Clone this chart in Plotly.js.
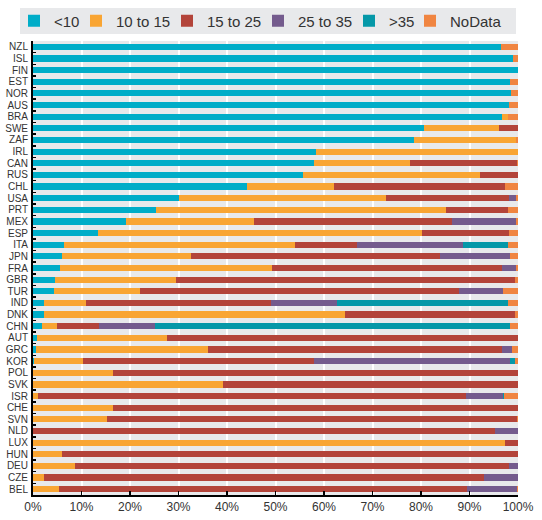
<!DOCTYPE html>
<html>
<head>
<meta charset="utf-8">
<script src="https://cdn.plot.ly/plotly-3.0.1.min.js"></script>
<style>html,body{margin:0;padding:0;background:#fff;}#chart{width:542px;height:520px;}</style>
</head>
<body>
<div id="chart"></div>
<script>
const countries = ["NZL","ISL","FIN","EST","NOR","AUS","BRA","SWE","ZAF","IRL","CAN","RUS","CHL","USA","PRT","MEX","ESP","ITA","JPN","FRA","GBR","TUR","IND","DNK","CHN","AUT","GRC","KOR","POL","SVK","ISR","CHE","SVN","NLD","LUX","HUN","DEU","CZE","BEL"];
const seriesNames = ["<10","10 to 15","15 to 25","25 to 35",">35","NoData"];
const lt10   = [96.4,98.9,99.9,98.4,98.6,98.1,96.8,80.7,78.5,58.4,58.0,55.7,44.1,30.2,25.4,19.2,13.5,6.3,6.0,5.5,4.6,4.3,2.2,2.2,1.8,0.9,0.7,0.3,0,0,0,0,0,0,0,0,0,0,0];
const r10_15 = [0,0,0,0,0,0,1.1,15.3,21.0,41.6,19.8,36.5,17.9,42.5,59.7,26.3,66.7,47.8,26.6,43.8,24.8,17.7,8.7,62.1,3.2,26.8,35.4,10.1,16.4,39.1,1.1,16.4,15.3,0,97.4,5.9,8.7,2.3,5.3];
const r15_25 = [0,0,0,0,0,0,0,3.9,0,0,21.9,7.8,35.4,25.4,12.9,40.8,17.9,12.6,51.3,47.3,69.9,65.8,38.2,35.0,8.7,72.3,60.5,47.6,83.6,60.9,88.2,83.6,84.4,95.3,2.6,94.1,89.5,90.6,84.1];
const r25_35 = [0,0,0,0,0,0,0,0,0,0,0,0,0,1.5,0,13.2,0,22.0,14.5,3.0,0,9.2,13.6,0,11.5,0,2.2,40.4,0,0,7.6,0,0,4.6,0,0,1.7,7.1,10.3];
const gt35   = [0,0,0,0,0,0,0,0,0,0,0,0,0,0,0,0,0,9.3,0,0,0,0,35.3,0,73.2,0,0,1.0,0,0,0.2,0,0,0,0,0,0,0,0];
const noData = [3.6,1.1,0.1,1.6,1.4,1.9,2.1,0.1,0.5,0,0.3,0,2.6,0.4,2.0,0.5,1.9,2.0,1.6,0.4,0.7,3.0,2.0,0.7,1.6,0,1.2,0.6,0,0,2.9,0,0.3,0.1,0,0,0.1,0,0.3];
const xTicks = [0,10,20,30,40,50,60,70,80,90,100];

const colors = ["#00ADC8","#F9A533","#B3443A","#745B8D","#0598A8","#F08541"];
const vals = [lt10,r10_15,r15_25,r25_35,gt35,noData];
// pixel x where each legend entry's text starts (reference)
const legendTextX = [54,116,207,298,389,450];

const traces = vals.map((v,i)=>({
  type:"bar", orientation:"h", name:seriesNames[i],
  x:v, y:countries,
  marker:{color:colors[i], line:{width:0}},
  legend: i===0 ? "legend" : "legend"+(i+1),
  hoverinfo:"x+y+name"
}));

const layout = {
  width:542, height:520,
  margin:{l:33, r:24, t:41, b:25, pad:0},
  paper_bgcolor:"#ffffff",
  plot_bgcolor:"#E8E9EB",
  barmode:"stack",
  barnorm:"percent",
  bargap:0.47,
  showlegend:true,
  font:{family:"Liberation Sans, Arial, sans-serif", color:"#333", size:12},
  xaxis:{
    range:[0,100], tickvals:xTicks, ticktext:xTicks.map(t=>t+"%"),
    showgrid:true, gridcolor:"#ffffff", gridwidth:2,
    showline:true, linecolor:"#000", linewidth:2,
    ticks:"inside", ticklen:4, tickcolor:"#000", tickwidth:1.5,
    tickfont:{size:12, color:"#333"},
    zeroline:false, fixedrange:true
  },
  yaxis:{
    type:"category", categoryorder:"array", categoryarray:countries,
    autorange:"reversed", tickmode:"linear", dtick:1,
    tickson:"boundaries", ticks:"inside", ticklen:3, tickcolor:"#000", tickwidth:1.5,
    showline:true, linecolor:"#000", linewidth:2,
    showgrid:false, zeroline:false,
    tickfont:{family:"Liberation Sans, Arial, sans-serif", size:10, color:"#333"},
    ticklabelstandoff:1,
    fixedrange:true
  },
  shapes:[{
    type:"rect", xref:"paper", yref:"paper",
    x0:-0.0268, x1:0.9959, y0:1.0154, y1:1.0727,
    fillcolor:"#E8E9EB", line:{width:0}, layer:"below"
  }]
};

seriesNames.forEach((n,i)=>{
  const key = i===0 ? "legend" : "legend"+(i+1);
  layout[key] = {
    orientation:"h", xref:"container", yref:"container",
    x:(legendTextX[i]-40)/542, xanchor:"left",
    y:1-21/520, yanchor:"middle",
    bgcolor:"rgba(0,0,0,0)", borderwidth:0,
    font:{size:15, color:"#333"},
    itemwidth:30, itemclick:false, itemdoubleclick:false
  };
});

Plotly.newPlot("chart", traces, layout, {displayModeBar:false, staticPlot:true});
</script>
</body>
</html>
